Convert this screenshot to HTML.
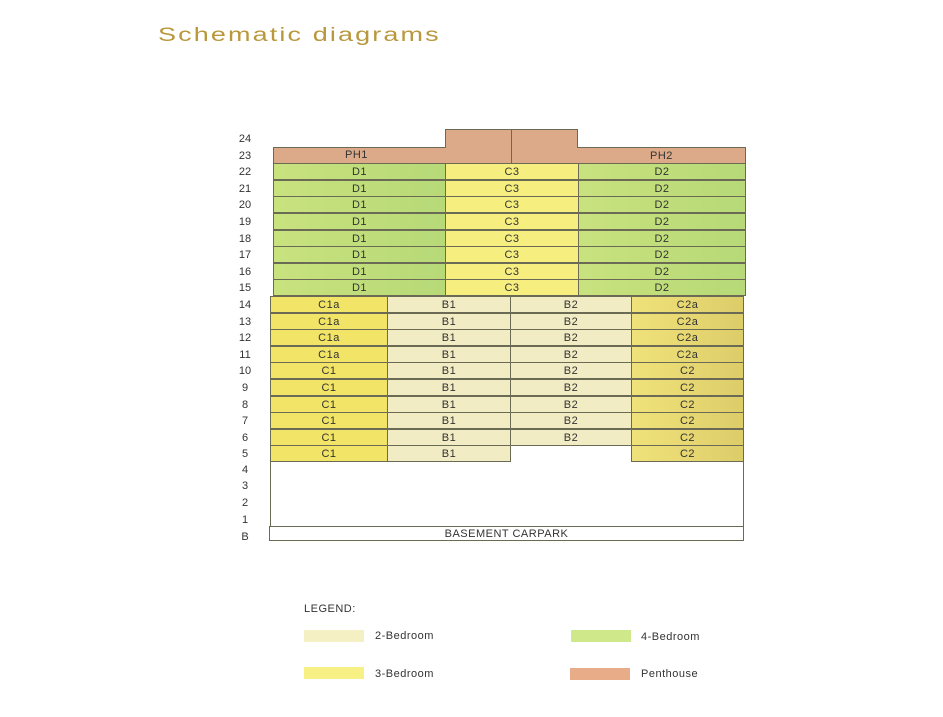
<!DOCTYPE html>
<html><head><meta charset="utf-8"><style>
body{margin:0;width:943px;height:717px;background:#fff;position:relative;overflow:hidden;font-family:"Liberation Sans",sans-serif}
.a{position:absolute}
.c{position:absolute;box-sizing:border-box;border:1px solid #6a6a55;font-size:11px;color:#333;text-align:center;line-height:16px;height:17px;letter-spacing:.5px}
.g{background:linear-gradient(90deg,#c8e27e,#b7d977)}
.y{background:#f6ef80}
.cr{background:#f2ecc4}
.y1{background:#f1e466}
.y2{background:linear-gradient(90deg,#f0e27a,#ddcd6a)}
.ph{background:#dcaa88}
.fl{position:absolute;left:232px;width:26px;text-align:center;font-size:11px;color:#333}
.lg{position:absolute;font-size:11px;color:#333;letter-spacing:.5px}
</style></head><body>
<div class="a" style="left:158px;top:25px;font-size:19px;color:#b9973c;letter-spacing:1.5px;transform:scaleX(1.42);transform-origin:0 0;white-space:nowrap">Schematic diagrams</div>

<div class="fl" style="top:133px">24</div><div class="fl" style="top:150px">23</div><div class="fl" style="top:166px">22</div><div class="fl" style="top:183px">21</div><div class="fl" style="top:199px">20</div><div class="fl" style="top:216px">19</div><div class="fl" style="top:233px">18</div><div class="fl" style="top:249px">17</div><div class="fl" style="top:266px">16</div><div class="fl" style="top:282px">15</div><div class="fl" style="top:299px">14</div><div class="fl" style="top:316px">13</div><div class="fl" style="top:332px">12</div><div class="fl" style="top:349px">11</div><div class="fl" style="top:365px">10</div><div class="fl" style="top:382px">9</div><div class="fl" style="top:399px">8</div><div class="fl" style="top:415px">7</div><div class="fl" style="top:432px">6</div><div class="fl" style="top:448px">5</div><div class="fl" style="top:464px">4</div><div class="fl" style="top:480px">3</div><div class="fl" style="top:497px">2</div><div class="fl" style="top:514px">1</div><div class="fl" style="top:531px">B</div>

<div class="c ph" style="left:445px;top:129px;width:67px;height:19px"></div>
<div class="c ph" style="left:511px;top:129px;width:67px;height:19px"></div>
<div class="c ph" style="left:273px;top:146.5px;width:239px"></div>
<div class="c ph" style="left:511px;top:146.5px;width:235px"></div>
<div class="c ph" style="left:446px;top:146px;width:131px;height:3px;border:none"></div>
<div class="a" style="left:511px;top:129px;width:1px;height:34px;background:#6a6a55"></div>
<div class="lg" style="left:345px;top:149px">PH1</div>
<div class="lg" style="left:650px;top:150px">PH2</div>

<div class="c g" style="left:273px;top:163.1px;width:173px">D1</div><div class="c y" style="left:445px;top:163.1px;width:134px">C3</div><div class="c g" style="left:578px;top:163.1px;width:168px">D2</div>
<div class="c g" style="left:273px;top:179.7px;width:173px">D1</div><div class="c y" style="left:445px;top:179.7px;width:134px">C3</div><div class="c g" style="left:578px;top:179.7px;width:168px">D2</div>
<div class="c g" style="left:273px;top:196.3px;width:173px">D1</div><div class="c y" style="left:445px;top:196.3px;width:134px">C3</div><div class="c g" style="left:578px;top:196.3px;width:168px">D2</div>
<div class="c g" style="left:273px;top:212.9px;width:173px">D1</div><div class="c y" style="left:445px;top:212.9px;width:134px">C3</div><div class="c g" style="left:578px;top:212.9px;width:168px">D2</div>
<div class="c g" style="left:273px;top:229.5px;width:173px">D1</div><div class="c y" style="left:445px;top:229.5px;width:134px">C3</div><div class="c g" style="left:578px;top:229.5px;width:168px">D2</div>
<div class="c g" style="left:273px;top:246.1px;width:173px">D1</div><div class="c y" style="left:445px;top:246.1px;width:134px">C3</div><div class="c g" style="left:578px;top:246.1px;width:168px">D2</div>
<div class="c g" style="left:273px;top:262.7px;width:173px">D1</div><div class="c y" style="left:445px;top:262.7px;width:134px">C3</div><div class="c g" style="left:578px;top:262.7px;width:168px">D2</div>
<div class="c g" style="left:273px;top:279.3px;width:173px">D1</div><div class="c y" style="left:445px;top:279.3px;width:134px">C3</div><div class="c g" style="left:578px;top:279.3px;width:168px">D2</div>

<div class="c y1" style="left:270px;top:295.9px;width:118px">C1a</div><div class="c cr" style="left:387px;top:295.9px;width:124px">B1</div><div class="c cr" style="left:510px;top:295.9px;width:122px">B2</div><div class="c y2" style="left:631px;top:295.9px;width:113px">C2a</div>
<div class="c y1" style="left:270px;top:312.5px;width:118px">C1a</div><div class="c cr" style="left:387px;top:312.5px;width:124px">B1</div><div class="c cr" style="left:510px;top:312.5px;width:122px">B2</div><div class="c y2" style="left:631px;top:312.5px;width:113px">C2a</div>
<div class="c y1" style="left:270px;top:329.1px;width:118px">C1a</div><div class="c cr" style="left:387px;top:329.1px;width:124px">B1</div><div class="c cr" style="left:510px;top:329.1px;width:122px">B2</div><div class="c y2" style="left:631px;top:329.1px;width:113px">C2a</div>
<div class="c y1" style="left:270px;top:345.7px;width:118px">C1a</div><div class="c cr" style="left:387px;top:345.7px;width:124px">B1</div><div class="c cr" style="left:510px;top:345.7px;width:122px">B2</div><div class="c y2" style="left:631px;top:345.7px;width:113px">C2a</div>
<div class="c y1" style="left:270px;top:362.3px;width:118px">C1</div><div class="c cr" style="left:387px;top:362.3px;width:124px">B1</div><div class="c cr" style="left:510px;top:362.3px;width:122px">B2</div><div class="c y2" style="left:631px;top:362.3px;width:113px">C2</div>
<div class="c y1" style="left:270px;top:378.9px;width:118px">C1</div><div class="c cr" style="left:387px;top:378.9px;width:124px">B1</div><div class="c cr" style="left:510px;top:378.9px;width:122px">B2</div><div class="c y2" style="left:631px;top:378.9px;width:113px">C2</div>
<div class="c y1" style="left:270px;top:395.5px;width:118px">C1</div><div class="c cr" style="left:387px;top:395.5px;width:124px">B1</div><div class="c cr" style="left:510px;top:395.5px;width:122px">B2</div><div class="c y2" style="left:631px;top:395.5px;width:113px">C2</div>
<div class="c y1" style="left:270px;top:412.1px;width:118px">C1</div><div class="c cr" style="left:387px;top:412.1px;width:124px">B1</div><div class="c cr" style="left:510px;top:412.1px;width:122px">B2</div><div class="c y2" style="left:631px;top:412.1px;width:113px">C2</div>
<div class="c y1" style="left:270px;top:428.7px;width:118px">C1</div><div class="c cr" style="left:387px;top:428.7px;width:124px">B1</div><div class="c cr" style="left:510px;top:428.7px;width:122px">B2</div><div class="c y2" style="left:631px;top:428.7px;width:113px">C2</div>
<div class="c y1" style="left:270px;top:445.3px;width:118px">C1</div><div class="c cr" style="left:387px;top:445.3px;width:124px">B1</div><div class="c y2" style="left:631px;top:445.3px;width:113px">C2</div>

<div class="a" style="left:270px;top:461px;width:1px;height:66px;background:#6a6a55"></div>
<div class="a" style="left:743px;top:461px;width:1px;height:66px;background:#6a6a55"></div>
<div class="c" style="left:269px;top:526px;width:475px;height:15px;line-height:14px;background:#fff">BASEMENT CARPARK</div>

<div class="lg" style="left:304px;top:603px">LEGEND:</div>
<div class="a" style="left:304px;top:630px;width:60px;height:12px;background:#f4f0c4"></div>
<div class="lg" style="left:375px;top:630px">2-Bedroom</div>
<div class="a" style="left:571px;top:630px;width:60px;height:12px;background:#cfe98a"></div>
<div class="lg" style="left:641px;top:631px">4-Bedroom</div>
<div class="a" style="left:304px;top:667px;width:60px;height:12px;background:#f6f085"></div>
<div class="lg" style="left:375px;top:668px">3-Bedroom</div>
<div class="a" style="left:570px;top:668px;width:60px;height:12px;background:#e8ad88"></div>
<div class="lg" style="left:641px;top:668px">Penthouse</div>
</body></html>
